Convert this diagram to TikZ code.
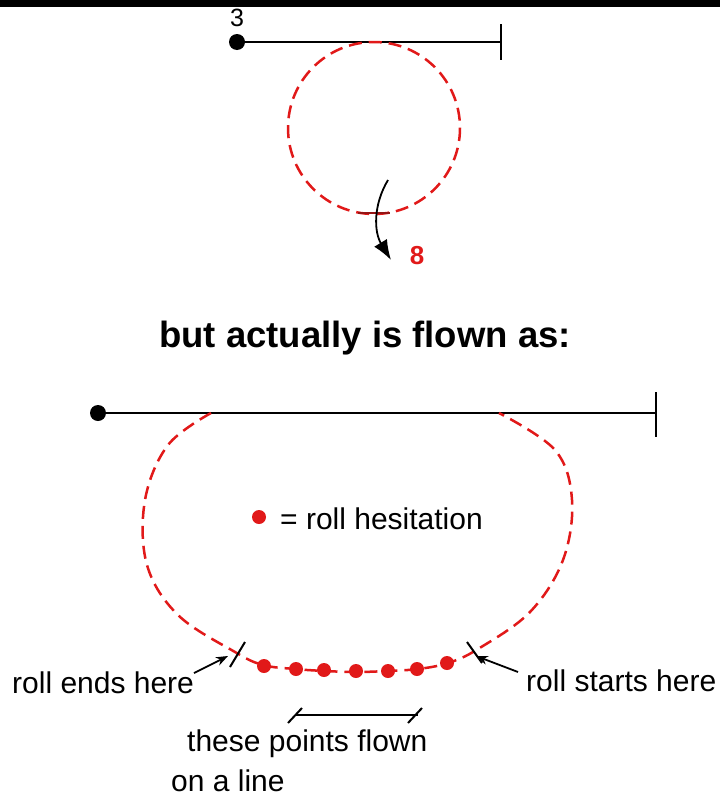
\documentclass[tikz,border=0pt]{standalone}
\usepackage{fontspec}
\setmainfont{Liberation Sans}
\usetikzlibrary{arrows.meta}
\definecolor{rred}{RGB}{225,25,25}
\definecolor{dred}{RGB}{150,20,20}
\begin{document}
\begin{tikzpicture}[x=1pt,y=-1pt,
  track/.style={line width=2.2pt,black},
  looppath/.style={rred,line width=2.5pt,dash pattern=on 13pt off 7pt},
  lbl/.style={font=\fontsize{30}{34}\selectfont,inner sep=0pt},
  hes/.style={circle,fill=rred,minimum size=14pt,inner sep=0pt},
  startpt/.style={circle,fill=black,minimum size=16pt,inner sep=0pt},
  ptr/.style={line width=1.8pt,-{Stealth[length=12pt,width=9pt]}},
  tickline/.style={line width=2pt,black}]
\useasboundingbox (0,0) rectangle (720,798);
\fill[black] (0,0) rectangle (720,7);

% ---------- top figure ----------
\node[startpt] (s1) at (237,42) {};
\coordinate (e1) at (501,42);
\coordinate (e1t) at (501,24);
\coordinate (e1b) at (501,60);
\draw[track] (s1.center) -- (e1);
\draw[tickline] (e1t) -- (e1b);
\node[font=\fontsize{25}{28}\selectfont,inner sep=0pt] (n3) at (237,18) {3};
\draw[looppath] (374,128) circle (86);
\coordinate (bt1) at (358,213);
\coordinate (bt2) at (390,213);
\draw[dred,line width=2.2pt] (bt1) -- (bt2);
\coordinate (a1s) at (388,180);
\coordinate (a1e) at (391,260);
\draw[line width=1.8pt,-{Latex[length=20pt,width=15pt]}] (a1s) .. controls (373,205) and (374,232) .. (a1e);
\node[font=\bfseries\fontsize{26}{30}\selectfont,text=rred,inner sep=0pt] (n8) at (417,256) {8};

% ---------- title ----------
\node[font=\bfseries\fontsize{36.5}{42}\selectfont,inner sep=0pt] (title) at (365,338) {but actually is flown as:};

% ---------- bottom figure ----------
\node[startpt] (s2) at (98,413) {};
\coordinate (e2) at (656,413);
\coordinate (e2t) at (656,392);
\coordinate (e2b) at (656,437);
\draw[track] (s2.center) -- (e2);
\draw[tickline] (e2t) -- (e2b);

\draw[looppath] plot[smooth,tension=0.6] coordinates {
 (211,413) (168,445) (145,500) (147,565) (178,615) (235,652) (263,665)
 (295,669) (325,671) (356,672) (387,671) (418,669) (448,663) (478,649)
 (530,612) (563,560) (572,500) (555,450) (499,413)};

\node[hes] (h1) at (264,666) {};
\node[hes] (h2) at (296,669) {};
\node[hes] (h3) at (324,670) {};
\node[hes] (h4) at (356,671) {};
\node[hes] (h5) at (388,671) {};
\node[hes] (h6) at (417,669) {};
\node[hes] (h7) at (447,663) {};

\node[hes] (leg) at (259,517) {};
\node[lbl,anchor=west] (legt) at (280,519) {= roll hesitation};

% roll ends
\coordinate (t1a) at (230,667);
\coordinate (t1b) at (245,642);
\draw[tickline] (t1a) -- (t1b);
\node[lbl,anchor=west] (ends) at (12,683) {roll ends here};
\coordinate (ea) at (194,673);
\coordinate (eb) at (228,656);
\draw[ptr] (ea) -- (eb);

% roll starts
\coordinate (t2a) at (467,642);
\coordinate (t2b) at (482,663);
\draw[tickline] (t2a) -- (t2b);
\node[lbl,anchor=west] (starts) at (526,681) {roll starts here};
\coordinate (sa) at (518,672);
\coordinate (sb) at (476,656);
\draw[ptr] (sa) -- (sb);

% line segment
\coordinate (la) at (295,715);
\coordinate (lb) at (418,715);
\draw[tickline] (la) -- (lb);
\draw[tickline] (288,723) -- (302,708);
\draw[tickline] (408,723) -- (422,708);
\node[lbl,anchor=west] (pts1) at (187,744) {these points flown};
\node[lbl,anchor=west] (pts2) at (171,781) {on a line};
\end{tikzpicture}
\end{document}
